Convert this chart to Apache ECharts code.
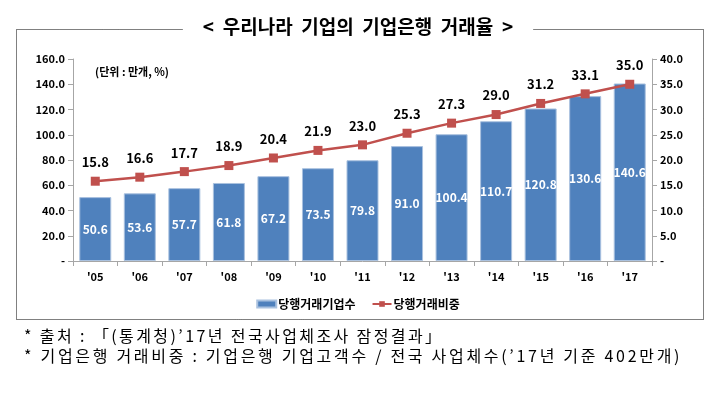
<!DOCTYPE html>
<html>
<head>
<meta charset="utf-8">
<script src="https://cdn.jsdelivr.net/npm/echarts@6/dist/echarts.min.js"></script>
<style>
  html, body { margin: 0; padding: 0; background: #fff; }
  #wrap { position: relative; width: 716px; height: 398px; }
  #main { width: 716px; height: 398px; }
  .note {
    position: absolute; left: 24px; white-space: nowrap;
    font-family: "Noto Sans CJK KR", sans-serif; font-size: 16px; color: #000;
    line-height: 20px;
  }
</style>
</head>
<body>
<div id="wrap">
  <div id="main"></div>
  <div class="note" id="note1" style="top:325px; letter-spacing:2.4px;"></div>
  <div class="note" id="note2" style="top:345px; letter-spacing:2.7px;"></div>
</div>
<script>
const years = ["'05", "'06", "'07", "'08", "'09", "'10", "'11", "'12", "'13", "'14", "'15", "'16", "'17"];
const firmCount = [50.6, 53.6, 57.7, 61.8, 67.2, 73.5, 79.8, 91.0, 100.4, 110.7, 120.8, 130.6, 140.6];
const tradeShare = [15.8, 16.6, 17.7, 18.9, 20.4, 21.9, 23.0, 25.3, 27.3, 29.0, 31.2, 33.1, 35.0];
const seriesNames = ['당행거래기업수', '당행거래비중'];
const titleText = '<  우리나라  기업의  기업은행  거래율  >';
const unitText = '(단위 : 만개, %)';
const notes = [
  '* 출처 : 「(통계청)’17년 전국사업체조사 잠정결과」',
  '* 기업은행 거래비중 : 기업은행 기업고객수 / 전국 사업체수(’17년 기준 402만개)'
];

document.getElementById('note1').textContent = notes[0];
document.getElementById('note2').textContent = notes[1];

const font = '"Noto Sans CJK KR", "Noto Sans", sans-serif';
const fmt = (v) => (v === 0 ? '-' : v.toFixed(1));

const axisCommon = {
  type: 'value',
  axisLine: { show: true, lineStyle: { color: '#a6a6a6' } },
  axisTick: { show: true, length: 5, lineStyle: { color: '#a6a6a6' } },
  splitLine: { show: false },
  axisLabel: { fontFamily: font, fontSize: 11, fontWeight: 'bold', color: '#000', formatter: fmt }
};

const chart = echarts.init(document.getElementById('main'), null, { renderer: 'canvas' });
chart.setOption({
  backgroundColor: '#fff',
  animation: false,
  textStyle: { fontFamily: font },
  grid: { left: 73, right: 64, top: 59, bottom: 137 },
  legend: {
    top: 293,
    left: 'center',
    itemWidth: 19,
    itemHeight: 7,
    itemGap: 16,
    textStyle: { fontFamily: font, fontSize: 12, fontWeight: 'bold', color: '#000', padding: [0, 0, 0, -3] },
    data: [
      { name: seriesNames[0], icon: 'rect' },
      { name: seriesNames[1] }
    ]
  },
  xAxis: {
    type: 'category',
    data: years,
    axisLine: { lineStyle: { color: '#a6a6a6' } },
    axisTick: { show: true, length: 5, lineStyle: { color: '#a6a6a6' } },
    axisLabel: { fontFamily: font, fontSize: 11, fontWeight: 'bold', color: '#000', margin: 10 }
  },
  yAxis: [
    Object.assign({}, axisCommon, { min: 0, max: 160, interval: 20, position: 'left' }),
    Object.assign({}, axisCommon, { min: 0, max: 40, interval: 5, position: 'right' })
  ],
  graphic: [
    {
      type: 'rect',
      shape: { x: 16.5, y: 29.5, width: 687, height: 290 },
      style: { fill: 'none', stroke: '#000', lineWidth: 1, lineDash: [1, 1] },
      z: -1
    },
    {
      type: 'text',
      left: 'center',
      top: 17,
      style: {
        text: titleText,
        font: 'bold 19px ' + font,
        fill: '#000',
        backgroundColor: '#fff',
        padding: [0, 20]
      },
      z: 10
    },
    {
      type: 'text',
      left: 95,
      top: 66,
      style: { text: unitText, font: 'bold 11px ' + font, fill: '#000' }
    }
  ],
  series: [
    {
      name: seriesNames[0],
      type: 'bar',
      data: firmCount,
      barWidth: 32,
      itemStyle: { color: '#4f81bd', borderColor: '#a9c1df', borderWidth: 1 },
      label: {
        show: true,
        position: 'inside',
        color: '#fff',
        fontFamily: font,
        fontSize: 12,
        fontWeight: 'bold',
        formatter: (p) => p.value.toFixed(1)
      }
    },
    {
      name: seriesNames[1],
      type: 'line',
      yAxisIndex: 1,
      data: tradeShare,
      symbol: 'rect',
      symbolSize: 9,
      lineStyle: { color: '#c0504d', width: 2.5 },
      itemStyle: { color: '#c0504d' },
      label: {
        show: true,
        position: 'top',
        distance: 8,
        color: '#000',
        fontFamily: font,
        fontSize: 13,
        fontWeight: 'bold',
        formatter: (p) => p.value.toFixed(1)
      }
    }
  ]
});
</script>
</body>
</html>
